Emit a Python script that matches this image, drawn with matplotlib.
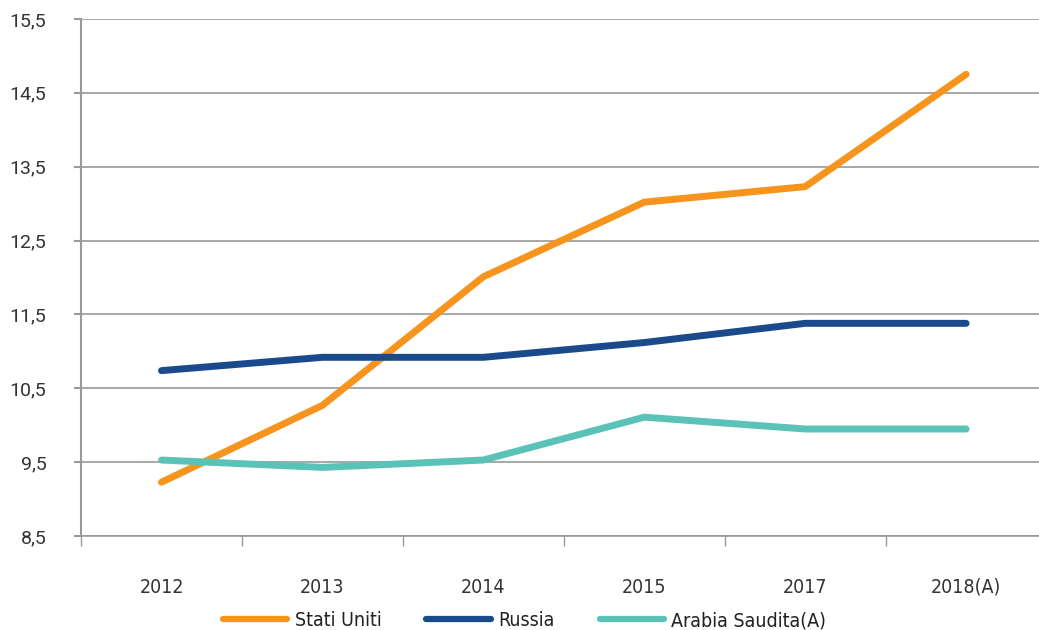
import matplotlib.pyplot as plt
from matplotlib.ticker import FuncFormatter, FixedLocator
from matplotlib import font_manager

# Production by year (million barrels/day)
years = ["2012", "2013", "2014", "2015", "2017", "2018(A)"]
stati_uniti = [9.23, 10.27, 12.01, 13.02, 13.23, 14.75]
russia = [10.74, 10.92, 10.92, 11.12, 11.38, 11.38]
arabia_saudita = [9.53, 9.43, 9.53, 10.11, 9.95, 9.95]

series = [
    ("Stati Uniti", stati_uniti, "#F7941D"),
    ("Russia", russia, "#1B4A8C"),
    ("Arabia Saudita(A)", arabia_saudita, "#5BC2B8"),
]

narrow = font_manager.FontProperties(family="DejaVu Sans", stretch="condensed", size=14)

fig = plt.figure(figsize=(10.39, 6.3), dpi=100)
ax = fig.add_axes([0.078, 0.149, 0.922, 0.821])

x = list(range(len(years)))
for name, vals, col in series:
    ax.plot(x, vals, color=col, linewidth=5, solid_capstyle="round",
            solid_joinstyle="round", label=name, zorder=3)

ax.set_ylim(8.5, 15.5)
ax.set_xlim(-0.5, 5.453)
ax.set_yticks([8.5, 9.5, 10.5, 11.5, 12.5, 13.5, 14.5, 15.5])
ax.yaxis.set_major_formatter(FuncFormatter(lambda v, p: f"{v:.1f}".replace(".", ",")))
ax.grid(axis="y", color="#999999", linewidth=1.2, zorder=0)

# category labels centred, tick marks between categories
ax.set_xticks(x)
ax.set_xticklabels(years, fontproperties=narrow, color="#333333")
ax.tick_params(axis="x", length=0, pad=30)
ax.xaxis.set_minor_locator(FixedLocator([i - 0.5 for i in range(len(years) + 1)]))
ax.tick_params(axis="x", which="minor", length=7, color="#999999", width=1)
ax.tick_params(axis="y", length=5, color="#999999", width=1.5, pad=20,
               labelsize=14, labelcolor="#333333")
for lbl in ax.get_yticklabels():
    lbl.set_family(["Roboto", "DejaVu Sans"])

for s in ["top", "right"]:
    ax.spines[s].set_visible(False)
ax.spines["left"].set_color("#999999")
ax.spines["left"].set_linewidth(1.5)
ax.spines["bottom"].set_color("#999999")
ax.spines["bottom"].set_linewidth(1.2)

leg = fig.legend(loc="center", bbox_to_anchor=(0.505, 0.015), ncol=3, frameon=False,
                 handlelength=3.3, columnspacing=2.3, handletextpad=0.4,
                 prop=narrow)
for line in leg.get_lines():
    line.set_linewidth(4.5)
for t in leg.get_texts():
    t.set_color("#222222")

fig.savefig("out.png", dpi=100)
